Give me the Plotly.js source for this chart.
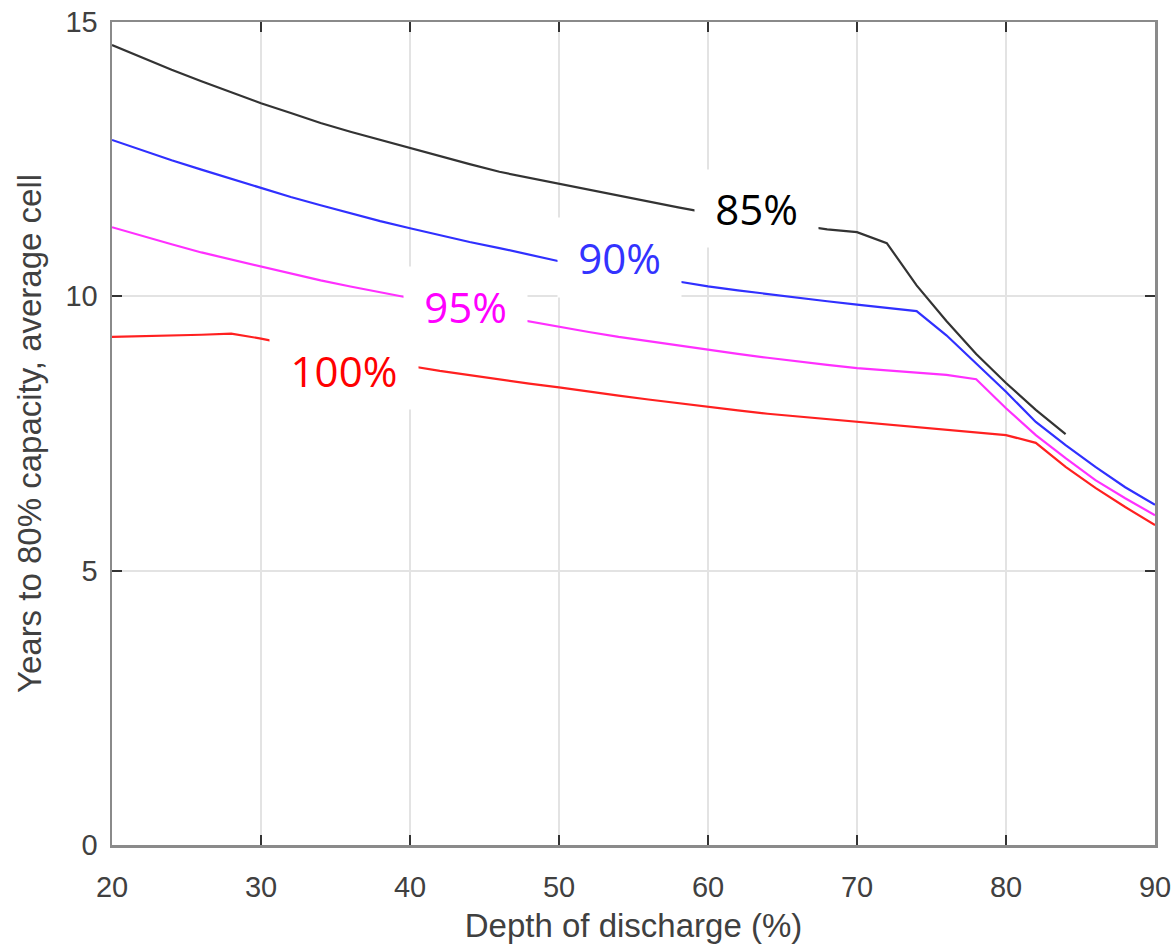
<!DOCTYPE html>
<html>
<head>
<meta charset="utf-8">
<script src="https://cdn.plot.ly/plotly-3.0.1.min.js"></script>
<style>
html,body{margin:0;padding:0;background:#fff;}
#chart{width:1176px;height:944px;}
</style>
</head>
<body>
<div id="chart"></div>
<script>
// Depth of discharge (%)
const dod = [20,22,24,26,28,30,32,34,36,38,40,42,44,46,48,50,52,54,56,58,60,62,64,66,68,70,72,74,76,78,80,82,84,86,88,90];
const dod85 = [20,22,24,26,28,30,32,34,36,38,40,42,44,46,48,50,52,54,56,58,60,62,64,66,68,70,72,74,76,78,80,82,84];

// Years to 80% capacity for each max state of charge
const years85 = [14.58,14.35,14.13,13.92,13.72,13.52,13.34,13.16,13.00,12.85,12.70,12.55,12.41,12.27,12.16,12.06,11.95,11.84,11.73,11.62,11.52,11.45,11.37,11.30,11.22,11.17,10.97,10.20,9.55,8.95,8.42,7.93,7.49];
const years90 = [12.85,12.66,12.48,12.31,12.14,11.97,11.81,11.66,11.51,11.37,11.24,11.11,10.99,10.88,10.76,10.64,10.54,10.44,10.35,10.27,10.18,10.11,10.04,9.98,9.91,9.85,9.79,9.73,9.29,8.78,8.26,7.71,7.29,6.89,6.52,6.20];
const years95 = [11.26,11.10,10.95,10.80,10.67,10.54,10.41,10.29,10.18,10.07,9.97,9.87,9.77,9.64,9.54,9.44,9.35,9.26,9.18,9.10,9.02,8.95,8.88,8.81,8.75,8.69,8.65,8.61,8.57,8.49,7.96,7.47,7.05,6.65,6.32,6.01];
const years100 = [9.26,9.27,9.28,9.30,9.32,9.23,9.12,9.02,8.92,8.82,8.73,8.64,8.56,8.48,8.41,8.34,8.26,8.19,8.12,8.05,7.98,7.92,7.86,7.81,7.76,7.71,7.66,7.61,7.56,7.51,7.47,7.33,6.89,6.51,6.16,5.83];

const seriesNames = ['85%','90%','95%','100%'];
const xTicks = [20,30,40,50,60,70,80,90];
const yTicks = [0,5,10,15];

const lineColors = ['#333333','#3030ff','#ff30ff','#ff2020'];
const labelColors = ['#000000','#3333ff','#ff00ff','#ff0000'];
const labelPos = [[63.26,11.60],[54.06,10.71],[43.72,9.82],[35.57,8.66]];
const labelBox = [[123,77],[123,79],[123,78],[148,78]];

const xs = [dod85, dod, dod, dod];
const ys = [years85, years90, years95, years100];

const traces = ys.map((y,i)=>({
  x: xs[i], y: y, type:'scatter', mode:'lines', name: seriesNames[i],
  line:{color: lineColors[i], width:2.2}, hoverinfo:'skip'
}));

const annotations = seriesNames.map((t,i)=>({
  x: labelPos[i][0], y: labelPos[i][1], xref:'x', yref:'y',
  text: t, showarrow:false, bgcolor:'#ffffff',
  width: labelBox[i][0], height: labelBox[i][1],
  font:{family:'Open Sans, sans-serif', size:42, color: labelColors[i]},
  xanchor:'center', yanchor:'middle', align:'center', valign:'middle', borderpad:0
}));

const tickFont = {family:'Liberation Sans, Arial, sans-serif', size:29, color:'#404040'};
const titleFont = {family:'Liberation Sans, Arial, sans-serif', size:33, color:'#404040'};

const layout = {
  width:1176, height:944,
  margin:{l:112, r:21, t:22, b:99, pad:0},
  paper_bgcolor:'#ffffff', plot_bgcolor:'#ffffff',
  showlegend:false,
  xaxis:{
    range:[20,90], tickvals:xTicks, ticktext:xTicks.map(String),
    showgrid:true, gridcolor:'#e3e3e3', gridwidth:2,
    zeroline:false, showline:true, linecolor:'#8a8a8a', linewidth:2.5, mirror:'ticks',
    ticks:'inside', ticklen:10, tickwidth:2, tickcolor:'#333333',
    tickfont:tickFont, ticklabelstandoff:15,
    title:{text:'Depth of discharge (%)', font:titleFont, standoff:13}
  },
  yaxis:{
    range:[0,15], tickvals:yTicks, ticktext:yTicks.map(String),
    showgrid:true, gridcolor:'#e3e3e3', gridwidth:2,
    zeroline:false, showline:true, linecolor:'#8a8a8a', linewidth:2.5, mirror:'ticks',
    ticks:'inside', ticklen:10, tickwidth:2, tickcolor:'#333333',
    tickfont:tickFont, ticklabelstandoff:6,
    title:{text:'Years to 80% capacity, average cell', font:titleFont, standoff:14}
  },
  annotations: annotations
};

Plotly.newPlot('chart', traces, layout, {displayModeBar:false, staticPlot:true});
</script>
</body>
</html>
